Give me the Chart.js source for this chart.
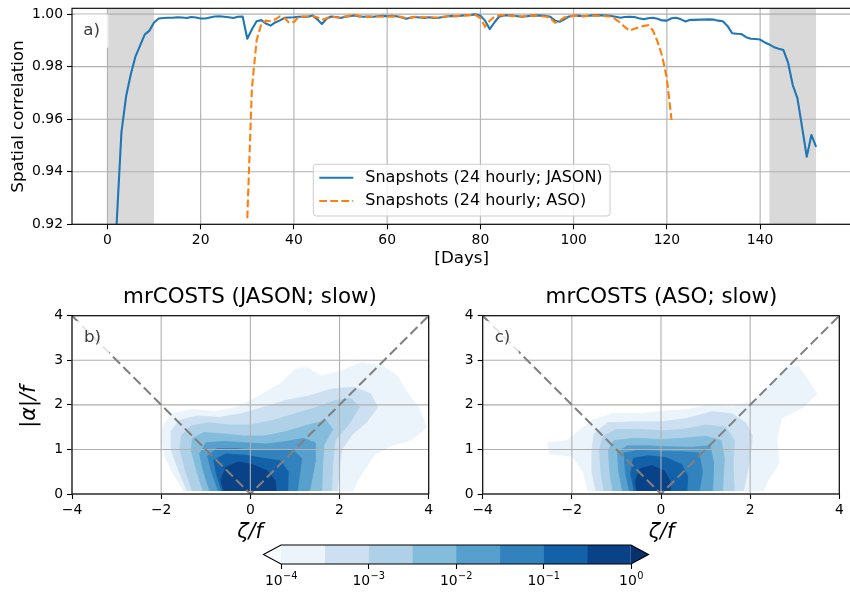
<!DOCTYPE html>
<html>
<head>
<meta charset="utf-8">
<script src="https://cdn.jsdelivr.net/npm/chart.js@4.4.1/dist/chart.umd.min.js"></script>
<style>
  html, body { margin: 0; padding: 0; background: #fff; overflow: hidden; }
  body { width: 850px; height: 597px; position: relative; }
  canvas { position: absolute; }
</style>
</head>
<body>
<canvas id="corrChart" width="860" height="280" style="left:0;top:0"></canvas>
<canvas id="jasonChart" width="440" height="262" style="left:0;top:280px"></canvas>
<canvas id="asoChart" width="420" height="262" style="left:440px;top:280px"></canvas>
<canvas id="cbarChart" width="430" height="62" style="left:240px;top:535px"></canvas>
<script>
// ---- panel a) spatial correlation of daily snapshots ----
const dayTicks = [0, 20, 40, 60, 80, 100, 120, 140];
const corrTicks = [0.92, 0.94, 0.96, 0.98, 1.0];
const spinUp = [[0, 10], [142, 152]];

const jasonStart = 0;
const jasonCorr = [
  0.850, 0.890, 0.921, 0.955, 0.9686, 0.977, 0.9838, 0.9880, 0.9922, 0.9937,
  0.9968, 0.9983, 0.9985, 0.9986, 0.9986, 0.9988, 0.9987, 0.9985, 0.9989, 0.9987,
  0.9983, 0.9983, 0.9987, 0.9991, 0.9992, 0.9990, 0.9988, 0.9985, 0.9990, 0.9991,
  0.9906, 0.9942, 0.9973, 0.9977, 0.9964, 0.9956, 0.9968, 0.9976, 0.9986, 0.9987,
  0.9988, 0.9990, 0.9990, 0.9990, 0.9995, 0.9980, 0.9962, 0.9982, 0.9991, 0.9989,
  0.9985, 0.9990, 0.9992, 0.9995, 0.9991, 0.9990, 0.9991, 0.9990, 0.9992, 0.9993,
  0.9992, 0.9993, 0.9992, 0.9988, 0.9982, 0.9986, 0.9989, 0.9987, 0.9985, 0.9988,
  0.9985, 0.9986, 0.9989, 0.9992, 0.9993, 0.9992, 0.9994, 0.9996, 0.9997, 0.9999,
  0.9994, 0.9975, 0.9943, 0.9968, 0.9990, 0.9995, 0.9995, 0.9994, 0.9992, 0.9990,
  0.9992, 0.9994, 0.9995, 0.9994, 0.9993, 0.9990, 0.9975, 0.9971, 0.9980, 0.9991,
  0.9993, 0.9994, 0.9992, 0.9993, 0.9995, 0.9996, 0.9995, 0.9994, 0.9993, 0.9990,
  0.9986, 0.9989, 0.9990, 0.9989, 0.9984, 0.9980, 0.9984, 0.9986, 0.9982, 0.9976,
  0.9975, 0.9984, 0.9986, 0.9980, 0.9972, 0.9978, 0.9978, 0.9979, 0.9979, 0.9980,
  0.9979, 0.9975, 0.9973, 0.9955, 0.9927, 0.9925, 0.9924, 0.9912, 0.9906, 0.9905,
  0.9903, 0.9892, 0.9884, 0.9874, 0.9868, 0.9863, 0.9815, 0.9730, 0.9680, 0.9570,
  0.9457, 0.9540, 0.9495
];

const asoStart = 30;
const asoCorr = [
  0.9223, 0.972, 0.9900, 0.9962, 0.9975, 0.9973, 0.9980, 0.9991, 0.9985, 0.9966,
  0.9970, 0.9989, 0.9991, 0.9991, 0.9992, 0.9988, 0.9978, 0.9984, 0.9990, 0.9988,
  0.9987, 0.9991, 0.9994, 0.9997, 0.9993, 0.9991, 0.9990, 0.9990, 0.9991, 0.9991,
  0.9991, 0.9992, 0.9991, 0.9990, 0.9984, 0.9987, 0.9990, 0.9989, 0.9988, 0.9989,
  0.9987, 0.9988, 0.9990, 0.9992, 0.9992, 0.9993, 0.9994, 0.9995, 0.9996, 0.9996,
  0.9985, 0.9952, 0.9975, 0.9990, 0.9995, 0.9996, 0.9995, 0.9993, 0.9991, 0.9991,
  0.9993, 0.9994, 0.9994, 0.9992, 0.9991, 0.9985, 0.9967, 0.9975, 0.9987, 0.9992,
  0.9993, 0.9993, 0.9992, 0.9993, 0.9994, 0.9994, 0.9993, 0.9992, 0.9991, 0.9980,
  0.9968, 0.9950, 0.9937, 0.9944, 0.9950, 0.9955, 0.9958, 0.9938, 0.9895, 0.9840,
  0.9755, 0.9597
];

// ---- panels b) c) joint pdf of zeta/f and |alpha|/f (contour bands, outer -> inner) ----
const zetaTicks = [-4, -2, 0, 2, 4];
const alphaTicks = [0, 1, 2, 3, 4];
const strainLine = [[-4, 4], [0, 0], [4, 4]];
const levelColors = ["#ecf4fb", "#cde0f1", "#aed1e7", "#84bcdb", "#57a0ce", "#3182bd", "#1361a9", "#0a4287"];

const jasonL1 = [[-1.5,0.07],[-1.7,0.4],[-1.9,0.8],[-2.0,1.2],[-1.95,1.55],[-1.75,1.8],[-1.3,1.9],[-0.8,1.85],[-0.3,1.95],[0.2,2.2],[0.7,2.5],[1.0,2.8],[1.25,2.85],[1.6,2.65],[2.0,2.75],[2.5,2.95],[3.0,2.85],[3.3,2.65],[3.5,2.3],[3.8,1.9],[3.95,1.5],[3.6,1.2],[3.2,1.1],[2.8,0.9],[2.6,0.6],[2.4,0.3],[2.3,0.07]];
const jasonL2 = [[-1.42,0.07],[-1.6,0.5],[-1.78,1.0],[-1.78,1.4],[-1.6,1.65],[-1.2,1.75],[-0.7,1.72],[-0.2,1.8],[0.3,1.95],[0.8,2.1],[1.3,2.2],[1.8,2.35],[2.3,2.4],[2.7,2.25],[2.85,1.95],[2.6,1.6],[2.3,1.35],[2.05,1.0],[2.0,0.6],[1.95,0.07]];
const jasonL3 = [[-1.3,0.07],[-1.45,0.5],[-1.58,1.0],[-1.55,1.3],[-1.35,1.52],[-0.95,1.6],[-0.45,1.55],[0.0,1.55],[0.5,1.65],[1.0,1.8],[1.5,1.95],[1.9,2.1],[2.25,2.15],[2.45,1.95],[2.2,1.55],[1.9,1.2],[1.85,0.7],[1.82,0.07]];
const jasonL4 = [[-1.06,0.07],[-1.2,0.5],[-1.33,1.0],[-1.3,1.25],[-1.05,1.38],[-0.6,1.35],[-0.15,1.3],[0.3,1.3],[0.8,1.4],[1.3,1.55],[1.7,1.65],[1.85,1.45],[1.65,1.1],[1.62,0.6],[1.6,0.07]];
const jasonL5 = [[-0.91,0.07],[-1.05,0.5],[-1.14,0.9],[-1.0,1.15],[-0.6,1.18],[-0.1,1.15],[0.35,1.12],[0.8,1.18],[1.2,1.25],[1.45,1.15],[1.45,0.7],[1.33,0.07]];
const jasonL6 = [[-0.72,0.07],[-0.87,0.5],[-0.96,0.85],[-0.75,1.02],[-0.3,1.02],[0.1,0.98],[0.5,0.98],[0.95,1.0],[1.15,0.8],[1.1,0.4],[1.05,0.07]];
const jasonL7 = [[-0.64,0.07],[-0.76,0.45],[-0.82,0.76],[-0.55,0.9],[-0.1,0.87],[0.3,0.8],[0.68,0.74],[0.85,0.5],[0.84,0.07]];
const jasonL8 = [[-0.6,0.07],[-0.66,0.32],[-0.55,0.6],[-0.27,0.72],[0.05,0.66],[0.38,0.52],[0.56,0.3],[0.58,0.07]];

const asoL1 = [[-1.64,0.07],[-1.75,0.5],[-2.0,0.85],[-2.5,0.9],[-2.55,1.15],[-2.1,1.2],[-1.8,1.45],[-1.55,1.65],[-1.1,1.8],[-0.5,1.8],[0.0,1.85],[0.6,1.9],[1.1,2.0],[1.6,1.95],[2.1,2.1],[2.5,2.5],[2.8,2.85],[3.1,2.85],[3.5,2.25],[3.2,1.95],[2.7,1.7],[2.6,1.2],[2.65,0.7],[2.4,0.3],[2.3,0.07]];
const asoL2 = [[-1.46,0.07],[-1.55,0.5],[-1.55,1.0],[-1.5,1.35],[-1.2,1.6],[-0.6,1.62],[0.0,1.62],[0.6,1.7],[1.15,1.85],[1.6,1.8],[1.9,1.6],[2.05,1.3],[2.0,0.8],[1.9,0.3],[1.85,0.07]];
const asoL3 = [[-1.28,0.07],[-1.35,0.5],[-1.38,1.0],[-1.3,1.3],[-1.0,1.45],[-0.5,1.45],[0.0,1.42],[0.5,1.45],[1.0,1.55],[1.45,1.5],[1.65,1.2],[1.62,0.7],[1.64,0.07]];
const asoL4 = [[-1.08,0.07],[-1.15,0.5],[-1.18,1.0],[-1.05,1.2],[-0.6,1.25],[0.0,1.22],[0.5,1.25],[1.0,1.3],[1.35,1.2],[1.42,0.8],[1.38,0.07]];
const asoL5 = [[-0.86,0.07],[-0.95,0.5],[-0.98,0.95],[-0.75,1.08],[-0.3,1.08],[0.2,1.06],[0.7,1.05],[1.1,1.08],[1.18,0.7],[1.16,0.07]];
const asoL6 = [[-0.71,0.07],[-0.8,0.5],[-0.83,0.92],[-0.5,0.98],[0.0,0.96],[0.5,0.95],[0.85,0.92],[0.93,0.5],[0.86,0.07]];
const asoL7 = [[-0.6,0.07],[-0.68,0.45],[-0.62,0.8],[-0.3,0.86],[0.1,0.82],[0.47,0.66],[0.6,0.4],[0.58,0.07]];
const asoL8 = [[-0.54,0.07],[-0.58,0.3],[-0.47,0.57],[-0.2,0.64],[0.07,0.52],[0.2,0.3],[0.22,0.07]];

// ---- colorbar (log10 of pdf) ----
const cbarEdges = [-4, -3.5, -3, -2.5, -2, -1.5, -1, -0.5, 0];
const cbarTicks = [-4, -3, -2, -1, 0];
const underColor = "#f7fbff";
const overColor = "#08306b";

Chart.defaults.font.family = "'DejaVu Sans', sans-serif";
Chart.defaults.font.size = 13.9;
Chart.defaults.color = "#000";

const GRID = "#b0b0b0";

function signed(v) {
  return v < 0 ? "\u2212" + Math.abs(v) : String(v);
}

function fixedTicks(list) {
  return (s) => { s.ticks = list.map((v) => ({ value: v })); };
}

function drawGrid(chart) {
  const { ctx, chartArea: a, scales } = chart;
  ctx.save();
  ctx.strokeStyle = GRID;
  ctx.lineWidth = 1.1;
  ctx.beginPath();
  scales.x.ticks.forEach((t) => {
    const px = scales.x.getPixelForValue(t.value);
    ctx.moveTo(px, a.top); ctx.lineTo(px, a.bottom);
  });
  scales.y.ticks.forEach((t) => {
    const py = scales.y.getPixelForValue(t.value);
    ctx.moveTo(a.left, py); ctx.lineTo(a.right, py);
  });
  ctx.stroke();
  ctx.restore();
}

function drawText(ctx, t) {
  ctx.save();
  ctx.font = t.font;
  ctx.fillStyle = t.color || "#000";
  ctx.textAlign = "center";
  ctx.textBaseline = "middle";
  ctx.translate(t.x, t.y);
  if (t.rot) ctx.rotate(t.rot);
  ctx.fillText(t.text, 0, 0);
  ctx.restore();
}

function drawTag(ctx, g) {
  ctx.save();
  ctx.font = '16.7px "DejaVu Sans"';
  const w = ctx.measureText(g.text).width;
  const pad = 8.3, h = 16.7;
  ctx.fillStyle = "rgba(255,255,255,0.8)";
  ctx.fillRect(g.x - w / 2 - pad, g.y - h / 2 - pad, w + 2 * pad, h + 2 * pad);
  ctx.fillStyle = "#3c3c3c";
  ctx.textAlign = "center";
  ctx.textBaseline = "middle";
  ctx.fillText(g.text, g.x, g.y);
  ctx.restore();
}

function drawLegend(chart, L) {
  const ctx = chart.ctx;
  ctx.save();
  ctx.fillStyle = "rgba(255,255,255,0.8)";
  ctx.strokeStyle = "#cccccc";
  ctx.lineWidth = 1;
  ctx.beginPath();
  ctx.roundRect(L.x, L.y, L.w, L.h, 3);
  ctx.fill();
  ctx.stroke();
  chart.data.datasets.forEach((ds, i) => {
    const y = L.y + L.rows[i];
    ctx.strokeStyle = ds.borderColor;
    ctx.lineWidth = ds.borderWidth;
    ctx.setLineDash(ds.borderDash || []);
    ctx.beginPath();
    ctx.moveTo(L.x + 6, y);
    ctx.lineTo(L.x + 40, y);
    ctx.stroke();
    ctx.setLineDash([]);
    ctx.fillStyle = "#000";
    ctx.font = '16px "DejaVu Sans"';
    ctx.textAlign = "left";
    ctx.textBaseline = "middle";
    ctx.fillText(ds.label, L.x + 52, y);
  });
  ctx.restore();
}

const decor = {
  id: "decor",
  beforeDatasetsDraw(chart, args, o) {
    const { ctx, chartArea: a, scales } = chart;
    if (o.shade) {
      ctx.save();
      ctx.fillStyle = "#d9d9d9";
      o.shade.forEach(([s, e]) => {
        const x0 = scales.x.getPixelForValue(s);
        const x1 = scales.x.getPixelForValue(e);
        ctx.fillRect(x0, a.top, x1 - x0, a.bottom - a.top);
      });
      ctx.restore();
    }
    if (o.gridAfter == null) drawGrid(chart);
  },
  afterDatasetDraw(chart, args, o) {
    if (o.gridAfter === args.index) drawGrid(chart);
  },
  afterDraw(chart, args, o) {
    const { ctx, chartArea: a } = chart;
    ctx.save();
    ctx.strokeStyle = "#000";
    ctx.lineWidth = 1.1;
    ctx.strokeRect(a.left, a.top, a.right - a.left, a.bottom - a.top);
    ctx.restore();
    if (o.legend) drawLegend(chart, o.legend);
    if (o.tag) drawTag(ctx, o.tag);
    (o.texts || []).forEach((t) => drawText(ctx, t));
  }
};

function axisX(min, max, list, height, fmt) {
  return {
    type: "linear", min, max,
    afterBuildTicks: fixedTicks(list),
    afterFit: (s) => { s.height = height; s.paddingLeft = 0; s.paddingRight = 0; },
    grid: { drawOnChartArea: false, tickLength: 5, tickColor: "#000", tickWidth: 1.1 },
    border: { display: false },
    ticks: { padding: 3, maxRotation: 0, autoSkip: false, callback: fmt }
  };
}

function axisY(min, max, list, width, fmt) {
  return {
    type: "linear", min, max,
    afterBuildTicks: fixedTicks(list),
    afterFit: (s) => { s.width = width; s.paddingTop = 0; s.paddingBottom = 0; },
    grid: { drawOnChartArea: false, tickLength: 5, tickColor: "#000", tickWidth: 1.1 },
    border: { display: false },
    ticks: { padding: 4, autoSkip: false, callback: fmt }
  };
}

// panel a)
new Chart(document.getElementById("corrChart"), {
  type: "line",
  data: {
    datasets: [
      {
        label: "Snapshots (24 hourly; JASON)",
        data: jasonCorr.map((v, i) => ({ x: jasonStart + i, y: v })),
        borderColor: "#1f77b4", borderWidth: 2.1, pointRadius: 0, tension: 0,
        borderJoinStyle: "round", order: 1
      },
      {
        label: "Snapshots (24 hourly; ASO)",
        data: asoCorr.map((v, i) => ({ x: asoStart + i, y: v })),
        borderColor: "#ff7f0e", borderWidth: 2.1, borderDash: [7.7, 3.3], pointRadius: 0, tension: 0,
        order: 0
      }
    ]
  },
  options: {
    responsive: false, animation: false,
    layout: { padding: { left: 0, right: 8.5, top: 8.3, bottom: 0 } },
    plugins: {
      legend: { display: false }, tooltip: { enabled: false },
      decor: {
        shade: spinUp,
        legend: { x: 313.3, y: 164.3, w: 296.7, h: 51.7, rows: [13.4, 36.7] },
        tag: { text: "a)", x: 91.7, y: 31 },
        texts: [
          { text: "Spatial correlation", x: 19, y: 116.5, rot: -Math.PI / 2, font: '16.7px "DejaVu Sans"' },
          { text: "[Days]", x: 461.7, y: 259, font: '16.7px "DejaVu Sans"' }
        ]
      }
    },
    scales: {
      x: axisX(-7.6, 159.6, dayTicks, 55.7, (v) => String(v)),
      y: axisY(0.92, 1.0022, corrTicks, 72, (v) => v.toFixed(2))
    }
  },
  plugins: [decor]
});

function pdfChart(id, bands, padRight, yWidth, cx, title, tag, withYLabel) {
  const datasets = bands.map((pts, k) => ({
    data: pts.map(([x, y]) => ({ x, y })),
    fill: "shape",
    backgroundColor: levelColors[k],
    borderColor: levelColors[k],
    borderWidth: 0.8,
    pointRadius: 0, tension: 0,
    order: bands.length - k
  }));
  datasets.push({
    data: strainLine.map(([x, y]) => ({ x, y })),
    borderColor: "#808080", borderWidth: 2, borderDash: [10, 4.5],
    pointRadius: 0, tension: 0, fill: false, order: 0
  });
  const texts = [
    { text: title, x: cx, y: 17, font: '21.4px "DejaVu Sans"' },
    { text: "\u03b6/f", x: cx, y: 253, font: 'italic 20.8px "DejaVu Sans"' }
  ];
  if (withYLabel) {
    texts.push({ text: "|\u03b1|/f", x: 30, y: 126.7, rot: -Math.PI / 2, font: 'italic 20.8px "DejaVu Sans"' });
  }
  return new Chart(document.getElementById(id), {
    type: "line",
    data: { datasets },
    options: {
      responsive: false, animation: false,
      layout: { padding: { left: 0, right: padRight, top: 35.7, bottom: 0 } },
      plugins: {
        legend: { display: false }, tooltip: { enabled: false },
        decor: { gridAfter: bands.length - 1, tag, texts }
      },
      scales: {
        x: axisX(-4, 4, zetaTicks, 48, signed),
        y: axisY(0, 4, alphaTicks, yWidth, signed)
      }
    },
    plugins: [decor]
  });
}

pdfChart("jasonChart", [jasonL1, jasonL2, jasonL3, jasonL4, jasonL5, jasonL6, jasonL7, jasonL8],
  11.3, 72, 250, "mrCOSTS (JASON; slow)", { text: "b)", x: 92.5, y: 57.5 }, true);
pdfChart("asoChart", [asoL1, asoL2, asoL3, asoL4, asoL5, asoL6, asoL7, asoL8],
  20.7, 42.7, 221.5, "mrCOSTS (ASO; slow)", { text: "c)", x: 62.5, y: 57.5 }, false);

// colorbar: extensions, outline and 10^n labels
const cbarDecor = {
  id: "cbarDecor",
  afterDraw(chart) {
    const { ctx, chartArea: a, scales } = chart;
    const x0 = scales.x.getPixelForValue(cbarEdges[0]);
    const x1 = scales.x.getPixelForValue(cbarEdges[cbarEdges.length - 1]);
    const ext = 0.05 * (x1 - x0);
    const mid = (a.top + a.bottom) / 2;
    ctx.save();
    ctx.fillStyle = underColor;
    ctx.beginPath(); ctx.moveTo(x0, a.top); ctx.lineTo(x0 - ext, mid); ctx.lineTo(x0, a.bottom); ctx.closePath(); ctx.fill();
    ctx.fillStyle = overColor;
    ctx.beginPath(); ctx.moveTo(x1, a.top); ctx.lineTo(x1 + ext, mid); ctx.lineTo(x1, a.bottom); ctx.closePath(); ctx.fill();
    ctx.strokeStyle = "#000";
    ctx.lineWidth = 1.1;
    ctx.beginPath();
    ctx.moveTo(x0 - ext, mid); ctx.lineTo(x0, a.top); ctx.lineTo(x1, a.top); ctx.lineTo(x1 + ext, mid);
    ctx.lineTo(x1, a.bottom); ctx.lineTo(x0, a.bottom); ctx.closePath();
    ctx.stroke();

    const base = '13.9px "DejaVu Sans"', sup = '9.8px "DejaVu Sans"';
    ctx.fillStyle = "#000";
    ctx.textBaseline = "alphabetic";
    ctx.textAlign = "left";
    cbarTicks.forEach((v) => {
      const exp = signed(v);
      ctx.font = base; const wb = ctx.measureText("10").width;
      ctx.font = sup; const we = ctx.measureText(exp).width;
      const px = scales.x.getPixelForValue(v) - (wb + we) / 2;
      const by = a.bottom + 21;
      ctx.font = base; ctx.fillText("10", px, by);
      ctx.font = sup; ctx.fillText(exp, px + wb + 0.5, by - 6.5);
    });
    ctx.restore();
  }
};

new Chart(document.getElementById("cbarChart"), {
  type: "bar",
  data: {
    labels: [""],
    datasets: levelColors.map((c, k) => ({
      data: [[cbarEdges[k], cbarEdges[k + 1]]],
      backgroundColor: c, borderWidth: 0, borderSkipped: false,
      barPercentage: 1, categoryPercentage: 1, grouped: false
    }))
  },
  options: {
    indexAxis: "y", responsive: false, animation: false,
    layout: { padding: { left: 41, right: 39, top: 10, bottom: 0 } },
    plugins: { legend: { display: false }, tooltip: { enabled: false } },
    scales: {
      x: axisX(-4, 0, cbarTicks, 33, () => ""),
      y: { display: false }
    }
  },
  plugins: [cbarDecor]
});
</script>
</body>
</html>
